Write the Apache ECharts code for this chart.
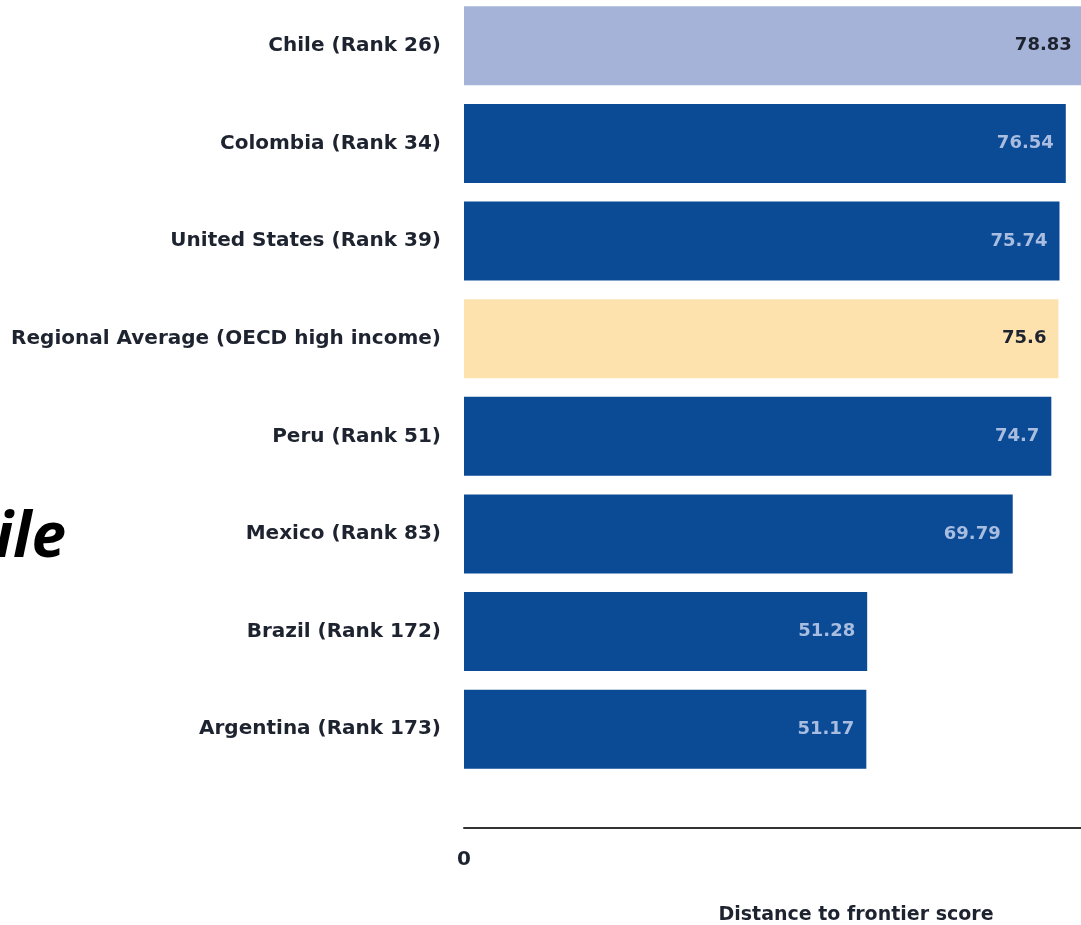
<!DOCTYPE html>
<html><head><meta charset="utf-8">
<script src="https://cdn.jsdelivr.net/npm/echarts@6/dist/echarts.min.js"></script>
<style>html,body{margin:0;padding:0;background:#fff}#c{width:1081px;height:925px}</style>
</head><body><div id="c"></div>
<script>
var categories = ["Chile (Rank 26)","Colombia (Rank 34)","United States (Rank 39)","Regional Average (OECD high income)","Peru (Rank 51)","Mexico (Rank 83)","Brazil (Rank 172)","Argentina (Rank 173)"];
var values = [78.83, 76.54, 75.74, 75.6, 74.7, 69.79, 51.28, 51.17];
var valueLabels = ["78.83","76.54","75.74","75.6","74.7","69.79","51.28","51.17"];
var highlight = {0: "chile", 3: "avg"};
var axisName = "Distance to frontier score";
var titleFragment = "Chile";

var chart = echarts.init(document.getElementById('c'));
var data = values.map(function(v, i){
  var kind = highlight[i];
  var col = kind === "chile" ? "#a5b3d8" : (kind === "avg" ? "#fde2ae" : "#0b4a94");
  var lc = kind ? "#1e2330" : "#a9bde0";
  return {value: v, itemStyle: {color: col}, label: {color: lc, formatter: valueLabels[i]}};
});
chart.setOption({
  animation: false,
  grid: {left: 464, width: 629, top: -3, bottom: 147, containLabel: false, outerBoundsMode: 'none'},
  xAxis: {
    type: 'value', min: 0, max: 80, interval: 80, offset: 50,
    axisLine: {show: true, lineStyle: {color: '#333', width: 2}},
    axisTick: {show: false}, splitLine: {show: false},
    axisLabel: {margin: 22, fontFamily: 'DejaVu Sans', fontWeight: 'bold', fontSize: 20, color: '#1e2330',
      formatter: function(v){ return v === 0 ? '0' : ''; }},
    name: axisName, nameLocation: 'middle', nameGap: 78,
    nameTextStyle: {fontFamily: 'DejaVu Sans', fontWeight: 'bold', fontSize: 19, color: '#1e2330', padding: [0, 0, 0, 155]}
  },
  yAxis: {
    type: 'category', data: categories, inverse: true,
    axisLine: {show: false}, axisTick: {show: false},
    axisLabel: {margin: 23, fontFamily: 'DejaVu Sans', fontWeight: 'bold', fontSize: 20, color: '#1e2330'}
  },
  series: [{
    type: 'bar', data: data, barCategoryGap: '19%',
    label: {show: true, position: 'insideRight', distance: 12, fontFamily: 'DejaVu Sans', fontWeight: 'bold', fontSize: 18}
  }],
  graphic: [{
    type: 'text', right: 1081 - 66, top: 508,
    style: {text: titleFragment, font: 'italic bold 62px "Open Sans"', fill: '#000', textAlign: 'right'}
  }]
});
</script></body></html>
